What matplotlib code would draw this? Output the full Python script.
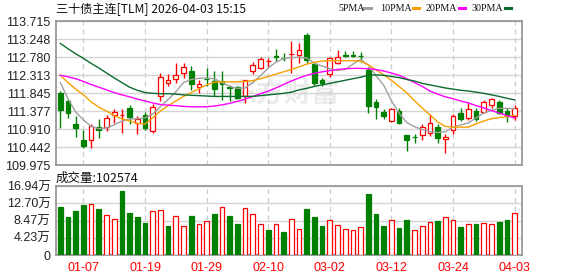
import matplotlib
matplotlib.use('Agg')
import matplotlib.pyplot as plt
from matplotlib.lines import Line2D
import numpy as np

# daily candles, 2026-01-02 .. 2026-04-03
opens = [111.86, 111.65, 111.04, 110.63, 110.63, 110.97, 110.96, 111.27, 111.27, 111.46,
         111.08, 111.27, 110.86, 111.78, 112.10, 112.22, 112.37, 112.42, 112.00, 112.22,
         112.15, 112.16, 112.00, 112.00, 111.78, 112.43, 112.49, 112.68, 112.80, 112.76,
         112.86, 112.84, 113.36, 112.61, 112.19, 112.34, 112.62, 112.83, 112.83, 112.81,
         112.45, 111.62, 111.36, 111.11, 111.39, 110.75, 110.71, 110.75, 110.81, 110.96,
         110.65, 110.89, 111.33, 111.21, 111.38, 111.36, 111.53, 111.62, 111.39, 111.24]
highs = [111.89, 111.69, 111.26, 110.89, 111.04, 111.17, 111.27, 111.43, 111.43, 111.54,
         111.26, 111.35, 111.55, 112.36, 112.35, 112.63, 112.62, 112.55, 112.19, 112.49,
         112.41, 112.41, 112.05, 112.03, 112.20, 112.65, 112.78, 112.75, 112.99, 112.88,
         113.20, 113.14, 113.41, 112.64, 112.25, 112.78, 112.97, 112.95, 112.93, 112.92,
         112.52, 111.68, 111.43, 111.45, 111.46, 110.76, 110.79, 111.05, 111.30, 111.04,
         110.78, 111.30, 111.46, 111.59, 111.46, 111.67, 111.72, 111.67, 111.45, 111.53]
lows = [110.93, 111.19, 110.70, 110.43, 110.42, 110.67, 110.87, 111.07, 110.82, 111.05,
        110.78, 110.89, 110.82, 111.63, 112.03, 112.12, 112.23, 111.92, 111.85, 112.02,
        111.78, 111.67, 111.63, 111.70, 111.58, 112.34, 112.47, 112.52, 112.67, 112.67,
        112.36, 112.62, 112.64, 112.07, 112.04, 112.26, 112.60, 112.78, 112.78, 112.65,
        111.34, 111.17, 111.17, 111.10, 111.05, 110.35, 110.56, 110.63, 110.74, 110.56,
        110.30, 110.78, 111.13, 111.15, 111.12, 111.32, 111.47, 111.30, 111.10, 111.15]
closes = [111.41, 111.34, 110.95, 110.48, 111.00, 110.88, 111.20, 111.35, 111.28, 111.22,
          111.16, 110.93, 111.48, 112.26, 112.18, 112.31, 112.52, 112.09, 112.09, 112.21,
          111.95, 112.09, 111.99, 111.72, 112.19, 112.57, 112.73, 112.69, 112.79, 112.75,
          112.87, 112.97, 112.72, 112.11, 112.10, 112.75, 112.79, 112.82, 112.82, 112.80,
          111.52, 111.49, 111.26, 111.42, 111.08, 110.63, 110.70, 110.96, 111.07, 110.68,
          110.70, 111.25, 111.18, 111.43, 111.17, 111.61, 111.69, 111.34, 111.24, 111.46]

# volume in 万 and its colour (1 = up / red, -1 = down / green)
volumes = [11.8, 9.3, 10.8, 12.3, 12.5, 11.3, 9.8, 8.8, 15.7, 10.3,
           9.3, 7.9, 10.7, 11.0, 7.1, 9.6, 7.0, 9.6, 7.6, 8.3,
           10.1, 11.7, 9.6, 7.6, 11.5, 10.1, 7.6, 6.1, 7.6, 5.7,
           8.8, 6.3, 11.3, 9.3, 7.1, 8.5, 7.3, 6.3, 6.1, 6.8,
           15.0, 10.1, 7.1, 8.5, 6.6, 8.6, 6.1, 7.0, 8.0, 8.4,
           9.3, 8.5, 6.9, 7.5, 7.6, 7.8, 7.6, 8.1, 8.6, 10.2574]
vol_dir = [-1, -1, -1, -1, 1, -1, 1, 1, -1, -1,
           -1, -1, 1, 1, -1, 1, 1, -1, 1, 1,
           -1, 1, -1, -1, 1, 1, 1, -1, 1, -1,
           1, 1, -1, -1, -1, 1, 1, 1, 1, 1,
           -1, -1, -1, 1, -1, -1, 1, 1, 1, -1,
           1, 1, -1, 1, -1, 1, 1, -1, -1, 1]

# moving averages as shown on the chart
ma5 = [112.12, 111.70, 111.35, 111.15, 110.98, 110.92, 110.94, 111.02, 111.12, 111.17,
       111.18, 111.20, 111.30, 111.50, 111.68, 111.88, 112.12, 112.20, 112.23, 112.24,
       112.22, 112.12, 112.02, 111.97, 111.98, 112.12, 112.30, 112.50, 112.65, 112.74,
       112.77, 112.78, 112.76, 112.62, 112.55, 112.48, 112.44, 112.46, 112.60, 112.72,
       112.58, 112.30, 112.05, 111.65, 111.32, 111.08, 110.97, 110.90, 110.84, 110.82,
       110.84, 110.96, 111.02, 111.07, 111.20, 111.33, 111.40, 111.45, 111.45, 111.44]
ma10 = [112.31, 112.12, 111.95, 111.80, 111.62, 111.48, 111.38, 111.26, 111.18, 111.12,
        111.06, 111.04, 111.20, 111.38, 111.52, 111.64, 111.76, 111.86, 111.96, 112.06,
        112.13, 112.14, 112.14, 112.14, 112.15, 112.17, 112.22, 112.28, 112.34, 112.40,
        112.46, 112.53, 112.60, 112.65, 112.68, 112.69, 112.69, 112.69, 112.69, 112.68,
        112.58, 112.45, 112.32, 112.18, 112.02, 111.85, 111.65, 111.46, 111.28, 111.10,
        110.98, 110.96, 110.96, 110.96, 111.05, 111.12, 111.18, 111.21, 111.23, 111.27]
ma20 = [112.31, 112.27, 112.22, 112.15, 112.07, 112.00, 111.93, 111.86, 111.80, 111.75,
        111.69, 111.64, 111.59, 111.55, 111.53, 111.52, 111.50, 111.49, 111.49, 111.49,
        111.51, 111.54, 111.58, 111.63, 111.69, 111.76, 111.83, 111.90, 111.98, 112.07,
        112.16, 112.24, 112.31, 112.36, 112.40, 112.43, 112.46, 112.48, 112.49, 112.49,
        112.48, 112.46, 112.42, 112.37, 112.31, 112.22, 112.12, 112.02, 111.90, 111.82,
        111.75, 111.70, 111.64, 111.59, 111.52, 111.46, 111.39, 111.33, 111.26, 111.20]
ma30 = [113.14, 113.00, 112.87, 112.75, 112.62, 112.50, 112.37, 112.24, 112.12, 112.00,
        111.92, 111.86, 111.84, 111.83, 111.83, 111.82, 111.80, 111.79, 111.78, 111.77,
        111.76, 111.76, 111.76, 111.76, 111.76, 111.76, 111.78, 111.80, 111.82, 111.84,
        111.87, 111.93, 111.97, 112.02, 112.06, 112.10, 112.14, 112.18, 112.22, 112.26,
        112.31, 112.32, 112.31, 112.28, 112.25, 112.20, 112.16, 112.10, 112.06, 112.02,
        111.98, 111.95, 111.92, 111.90, 111.87, 111.84, 111.80, 111.76, 111.71, 111.67]

date_idx = [3, 11, 19, 27, 35, 43, 51, 59]
date_labels = ['01-07', '01-19', '01-29', '02-10', '03-02', '03-12', '03-24', '04-03']
price_ticks = [109.975, 110.442, 110.910, 111.377, 111.845, 112.313, 112.780, 113.248, 113.715]
vol_ticks = [0, 4.235, 8.47, 12.705, 16.94]
vol_labels = ['0', '4.23万', '8.47万', '12.70万', '16.94万']
ma_names = ['5PMA', '10PMA', '20PMA', '30PMA']

RED = '#ff0000'
GREEN = '#008000'
MA_COLORS = ['#a0a0a0', '#f5a000', '#ff00ff', '#0a6b2e']
W, H = 578, 276

fig = plt.figure(figsize=(W / 100, H / 100), dpi=100)
ax = fig.add_axes([56 / W, 1 - 165 / H, 466 / W, 143.7 / H])
axv = fig.add_axes([56 / W, 1 - 255 / H, 466 / W, 69 / H])

x = np.arange(len(closes))
o = np.array(opens)
c = np.array(closes)
up = c >= o
cols = [RED if u else GREEN for u in up]

for a in (ax, axv):
    a.set_xlim(-0.56, 59.96)
    for s in a.spines.values():
        s.set_color('#999999')
        s.set_linewidth(1.3)
    a.set_xticks(date_idx)
    a.grid(axis='x', color='#cccccc', lw=0.9, ls=(0, (4, 3)))
    a.grid(axis='y', color='#d4d4d4', lw=1.0)
    a.set_axisbelow(True)
    a.tick_params(length=0, pad=4, labelsize=9, labelcolor='#222222')

# price panel
ax.set_ylim(109.975, 113.715)
ax.set_yticks(price_ticks)
ax.set_yticklabels(['%.3f' % p for p in price_ticks], family='Liberation Sans')
ax.set_xticklabels([])

ax.text(0.49, 0.5, '东方财富', transform=ax.transAxes, ha='center', va='center',
        fontsize=20, color='#ebebeb', family='Noto Sans CJK SC', fontweight='bold', zorder=0)

ax.vlines(x, lows, highs, colors=cols, lw=1.0, zorder=2)
body = np.maximum(np.abs(c - o), 0.004)
ax.bar(x, body, bottom=np.minimum(o, c), width=0.62,
       facecolor=['white' if u else GREEN for u in up], edgecolor=cols, lw=0.9, zorder=3)

for ma, col in zip([ma5, ma10, ma20, ma30], MA_COLORS):
    ax.plot(x, ma, color=col, lw=1.0, zorder=4)

# volume panel
vcols = [RED if d > 0 else GREEN for d in vol_dir]
axv.bar(x, volumes, width=0.62, facecolor=['white' if d > 0 else GREEN for d in vol_dir],
        edgecolor=vcols, lw=0.9, zorder=3)
axv.set_ylim(0, 16.94)
axv.set_yticks(vol_ticks)
axv.set_yticklabels(vol_labels, family=['Liberation Sans', 'Noto Sans CJK SC'])
axv.set_xticklabels(date_labels, color=RED, family='Liberation Sans', fontsize=9)
axv.tick_params(axis='x', pad=5)

# titles and legend
fig.text(56 / W, 1 - 9 / H, '三十债主连[TLM] 2026-04-03 15:15', va='center', fontsize=8.7,
         family=['Noto Sans CJK SC', 'DejaVu Sans'], color='#111111')
fig.text(56 / W, 1 - 178 / H, '成交量:102574', va='center', fontsize=9,
         family=['Noto Sans CJK SC', 'DejaVu Sans'], color='#111111')

# legend: label then a short colour swatch
label_x = [338, 380, 425.5, 471.5]
swatch_x = [364.5, 413, 459, 504.5]
for name, col, lx, sx in zip(ma_names, MA_COLORS, label_x, swatch_x):
    fig.text(lx / W, 1 - 8.5 / H, name, va='center', fontsize=7.2,
             family='Liberation Serif', color='#111111')
    fig.add_artist(Line2D([sx / W, (sx + 6) / W], [1 - 8 / H, 1 - 8 / H],
                          color=col, lw=2.2, transform=fig.transFigure))

fig.savefig('out.png', dpi=100)
